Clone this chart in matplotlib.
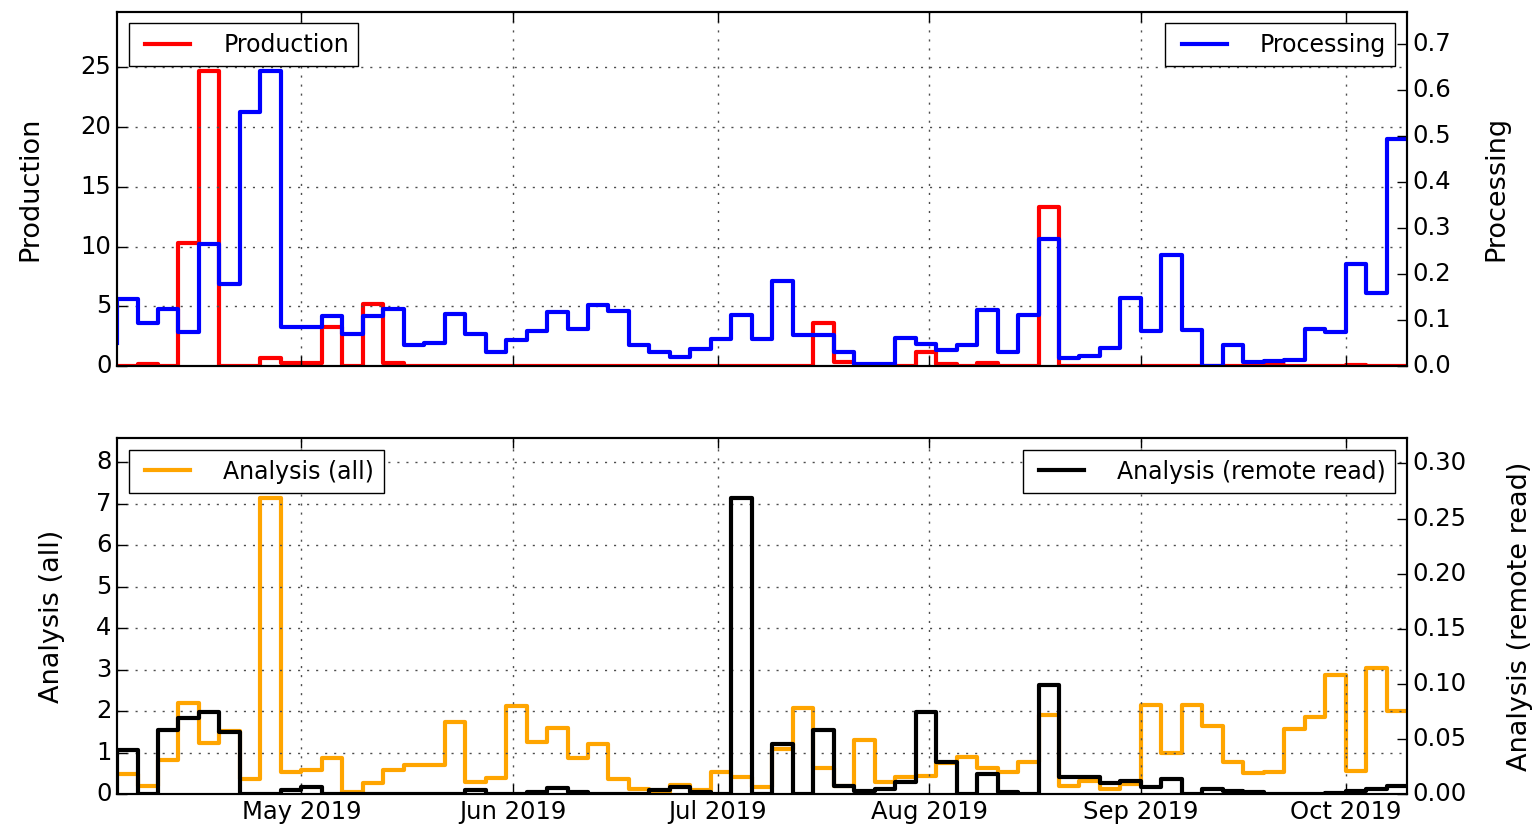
import matplotlib
matplotlib.use('Agg')
import matplotlib.pyplot as plt
import matplotlib.dates as mdates
from matplotlib.ticker import MultipleLocator, FormatStrFormatter
import pandas as pd

plt.style.use('classic')
plt.rcParams['font.family'] = ['DejaVu Sans']
plt.rcParams['font.size'] = 17.5

# 3-day bins, Apr 4 -> Oct 10 2019 (first value is the step start)
edges = pd.date_range('2019-04-04', periods=64, freq='3D')

production = [0,
              0, 0.15, 0, 10.3, 24.7, 0, 0, 0.65, 0.22, 0.22,
              3.3, 0, 5.2, 0.3, 0, 0, 0, 0, 0, 0,
              0, 0, 0, 0, 0, 0, 0, 0, 0, 0,
              0, 0, 0, 0, 3.6, 0.35, 0, 0, 0, 1.15,
              0.15, 0, 0.3, 0, 0, 13.3, 0, 0, 0, 0,
              0, 0, 0, 0, 0, 0, 0.1, 0, 0, 0,
              0.1, 0, 0]

processing = [0.05,
              0.145, 0.094, 0.125, 0.074, 0.265, 0.178, 0.552, 0.642, 0.084, 0.084,
              0.108, 0.069, 0.108, 0.125, 0.046, 0.051, 0.114, 0.069, 0.031, 0.056,
              0.077, 0.118, 0.080, 0.132, 0.120, 0.046, 0.031, 0.020, 0.037, 0.058,
              0.111, 0.060, 0.185, 0.067, 0.067, 0.031, 0.005, 0.005, 0.062, 0.048,
              0.035, 0.046, 0.123, 0.030, 0.112, 0.277, 0.018, 0.022, 0.040, 0.147,
              0.076, 0.241, 0.078, 0.0, 0.046, 0.008, 0.012, 0.013, 0.080, 0.074,
              0.221, 0.158, 0.494]

analysis_all = [0.5,
                0.5, 0.2, 0.83, 2.2, 1.23, 1.54, 0.37, 7.15, 0.55, 0.59,
                0.87, 0.07, 0.27, 0.59, 0.71, 0.71, 1.75, 0.31, 0.40, 2.13,
                1.27, 1.6, 0.87, 1.22, 0.37, 0.13, 0.05, 0.23, 0.1, 0.55,
                0.43, 0.19, 1.1, 2.08, 0.63, 0.2, 1.3, 0.31, 0.41, 0.45,
                0.75, 0.91, 0.63, 0.53, 0.79, 1.92, 0.2, 0.33, 0.13, 0.25,
                2.16, 1.0, 2.16, 1.65, 0.79, 0.51, 0.55, 1.57, 1.86, 2.88,
                0.56, 3.04, 2.0]

remote_read = [0,
               0.040, 0, 0.058, 0.069, 0.075, 0.057, 0, 0, 0.004, 0.007,
               0, 0, 0, 0, 0, 0, 0, 0.004, 0, 0,
               0.002, 0.006, 0.002, 0, 0, 0, 0.004, 0.007, 0.002, 0,
               0.269, 0, 0.046, 0, 0.058, 0.0075, 0.003, 0.005, 0.011, 0.075,
               0.029, 0, 0.019, 0.002, 0, 0.099, 0.016, 0.016, 0.010, 0.012,
               0.007, 0.014, 0, 0.005, 0.003, 0.002, 0, 0, 0, 0.001,
               0.003, 0.005, 0.008]

fig = plt.figure(figsize=(15.4, 8.34), dpi=100)
fig.patch.set_facecolor('white')

ax1 = fig.add_axes([0.076, 0.561, 0.8377, 0.425])
ax2 = fig.add_axes([0.076, 0.0474, 0.8377, 0.4271], sharex=ax1)
ax1r = ax1.twinx()
ax2r = ax2.twinx()

lw = 3
ax1.plot(edges, production, 'r-', drawstyle='steps', lw=lw, label='Production')
ax1r.plot(edges, processing, 'b-', drawstyle='steps', lw=lw, label='Processing')
ax2.plot(edges, analysis_all, '-', color='orange', drawstyle='steps', lw=lw, label='Analysis (all)')
ax2r.plot(edges, remote_read, 'k-', drawstyle='steps', lw=lw, label='Analysis (remote read)')

# y ranges leave 20% headroom over the peak
ax1.set_ylim(0, 1.2 * max(production))
ax1r.set_ylim(0, 1.2 * max(processing))
ax2.set_ylim(0, 1.2 * max(analysis_all))
ax2r.set_ylim(0, 1.2 * max(remote_read))
ax1.set_xlim(edges[0], edges[-1])

ax1.yaxis.set_major_locator(MultipleLocator(5))
ax1r.yaxis.set_major_locator(MultipleLocator(0.1))
ax1r.yaxis.set_major_formatter(FormatStrFormatter('%.1f'))
ax2.yaxis.set_major_locator(MultipleLocator(1))
ax2r.yaxis.set_major_locator(MultipleLocator(0.05))
ax2r.yaxis.set_major_formatter(FormatStrFormatter('%.2f'))

ax2.xaxis.set_major_locator(mdates.MonthLocator())
ax2.xaxis.set_major_formatter(mdates.DateFormatter('%b %Y'))
ax1.tick_params(labelbottom=False)

for ax in (ax1, ax2, ax1r, ax2r):
    ax.tick_params(direction='in', length=7, width=1, labelsize=17.5)
    for s in ax.spines.values():
        s.set_linewidth(1.5)

for ax in (ax1, ax2):
    ax.grid(True, color='0.3', linestyle=(0, (1.5, 5)), linewidth=1.0)

ax1.set_ylabel('Production', fontsize=19.5, labelpad=27)
ax1r.set_ylabel('Processing', fontsize=19.5, labelpad=23)
ax2.set_ylabel('Analysis (all)', fontsize=19.5, labelpad=22)
ax2r.set_ylabel('Analysis (remote read)', fontsize=19.5, labelpad=29)

leg_kw = dict(fontsize=17, handlelength=2.5, handletextpad=1.1)
ax1.legend(loc='upper left', **leg_kw)
ax1r.legend(loc='upper right', **leg_kw)
ax2.legend(loc='upper left', **leg_kw)
ax2r.legend(loc='upper right', **leg_kw)

plt.savefig('out.png', dpi=100, facecolor='white')
